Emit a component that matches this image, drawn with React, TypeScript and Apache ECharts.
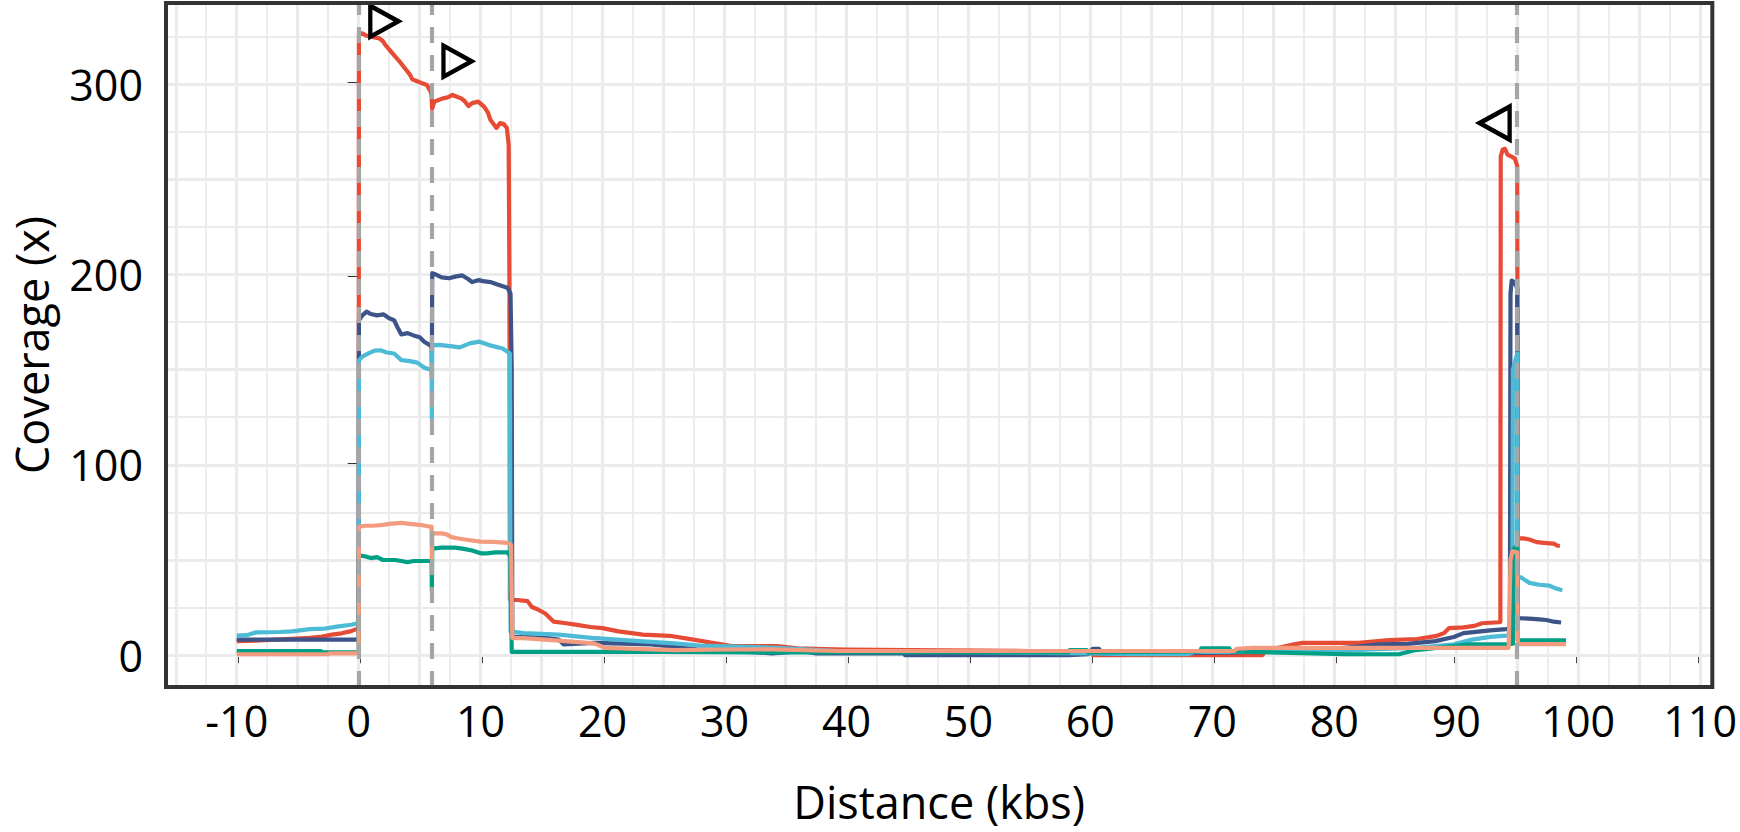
import React, { useEffect, useRef } from 'react'
import * as echarts from 'echarts'

const FONT = "'Open Sans', 'Noto Sans', sans-serif"

const SERIES_COLORS = {
  red: '#E64B35',
  navy: '#3C5488',
  sky: '#4DBBD5',
  green: '#00A087',
  salmon: '#F39B7F'
}

// axis ticks and grid positions
const distanceTicks = [-10, 0, 10, 20, 30, 40, 50, 60, 70, 80, 90, 100, 110]
const coverageTicks = [0, 100, 200, 300]
const xMajorGrid = [-15, -10, -5, 0, 5, 10, 15, 20, 25, 30, 35, 40, 45, 50, 55, 60, 65, 70, 75, 80, 85, 90, 95, 100, 105, 110]
const xMinorGrid = [-12.5, -7.5, -2.5, 2.5, 7.5, 12.5, 17.5, 22.5, 27.5, 32.5, 37.5, 42.5, 47.5, 52.5, 57.5, 62.5, 67.5, 72.5, 77.5, 82.5, 87.5, 92.5, 97.5, 102.5, 107.5]
const yMajorGrid = [0, 50, 100, 150, 200, 250, 300]
const yMinorGrid = [25, 75, 125, 175, 225, 275, 325]

// insertion boundaries (kbs)
const boundaries = [0, 6, 95]
const arrowsRight: [number, number][] = [[2.1, 333], [8.1, 312]]
const arrowsLeft: [number, number][] = [[93.15, 279.5]]

// coverage traces: [distance kbs, coverage x]
const redCoverage: [number, number][] = [
  [-10, 7.4], [-8.5, 7.6], [-6.9, 8.2], [-5.5, 8.6], [-4, 9.1], [-3, 9.8], [-2.2, 10.8], [-1.4, 11.5], [-0.7, 12.5], [-0.2, 13.7], [0, 13.7],
  [0.02, 326], [0.3, 326.7], [0.6, 325.5], [0.9, 325], [1.3, 324.5], [1.7, 324], [2.0, 322.5], [2.2, 320.5], [2.6, 317.5], [3.0, 314.4],
  [3.4, 311.5], [3.9, 307.4], [4.2, 305], [4.4, 302.5], [4.8, 301.5], [5.2, 300.4], [5.6, 299.5], [5.9, 296], [5.98, 294], [6.02, 287],
  [6.2, 290.8], [6.5, 291.5], [6.9, 292.5], [7.3, 293], [7.7, 294.3], [8.0, 293.5], [8.4, 292.5], [8.7, 291], [9.0, 288.5], [9.3, 290],
  [9.8, 290.8], [10.3, 288], [10.6, 285], [10.8, 281.3], [11.3, 277], [11.6, 279.5], [11.9, 279], [12.15, 277], [12.3, 268], [12.36, 200],
  [12.4, 29], [13.0, 29], [13.85, 28.4], [14.2, 25.3], [14.7, 24], [15.3, 21.9], [16.0, 17.6], [17.0, 16.8], [17.9, 15.9], [19, 14.8],
  [20, 14.2], [21.3, 12.5], [23.3, 10.8], [25.5, 10.2], [27.7, 7.9], [29, 6.5], [30.6, 4.8], [34.3, 4.8], [36, 3.6], [39, 3.1], [40, 3],
  [48, 2.5], [55, 2.2], [60.1, 2], [60.2, 0], [74.1, 0], [74.4, 2.5], [75.5, 4], [76.7, 5.7], [77.4, 6.5], [82, 6.5], [84.5, 7.9],
  [86.8, 8.5], [88.3, 10], [89, 11.6], [89.4, 14.2], [90.6, 14.6], [91.5, 15.4], [92.1, 16.8], [93.5, 17.3], [93.62, 17.5], [93.65, 262],
  [93.8, 265.5], [94.0, 266], [94.2, 263], [94.5, 262], [94.8, 261], [95.0, 257], [95.05, 61.4], [95.5, 61.4], [96.0, 60.8], [96.6, 59.4],
  [97.4, 58.9], [98.0, 58.6], [98.3, 57.5], [98.5, 57.5]
]

const navyCoverage: [number, number][] = [
  [-10, 8.2], [0, 8.2], [0.02, 176], [0.3, 178.5], [0.65, 180.5], [1.0, 179.2], [1.5, 178.5], [2.05, 179], [2.5, 177], [2.9, 176],
  [3.2, 172], [3.5, 168.5], [4.0, 169.2], [4.5, 168], [5.0, 167], [5.4, 164.5], [5.8, 163], [5.98, 162], [6.0, 146], [6.03, 200.7],
  [6.3, 200], [6.8, 198.5], [7.4, 198], [8.0, 199], [8.5, 199.5], [9.0, 197.5], [9.3, 196], [9.8, 197], [10.2, 196.5], [10.8, 196],
  [11.5, 194.5], [12.2, 193], [12.45, 190], [12.55, 150], [12.6, 9.5], [13.5, 9.6], [15.5, 9], [16.4, 8.2], [16.8, 5.7], [19.3, 6.5],
  [24, 5.7], [27.7, 3.1], [30, 2.5], [33.9, 1], [35.5, 1.7], [36.8, 1.7], [37.5, 1], [44.7, 1], [44.8, 0], [58.2, 0], [59.8, 0.5],
  [60.2, 3.4], [60.7, 3.4], [61, 0.5], [66, 1], [72, 1.5], [76, 2], [78.2, 2.6], [80.8, 3.9], [83.8, 5.7], [86, 6], [88.3, 7.4],
  [89.8, 9.6], [90.6, 11.6], [92.8, 13], [94.1, 13.7], [94.4, 14.6], [94.45, 190], [94.55, 196.8], [94.75, 196], [95.0, 193],
  [95.05, 19.5], [96.3, 19.1], [96.8, 18.8], [97.4, 18.5], [98.0, 17.6], [98.6, 17.2]
]

const skyCoverage: [number, number][] = [
  [-10, 10.3], [-9.2, 10.5], [-8.4, 12], [-6.5, 12.2], [-5.5, 12.5], [-4, 13.7], [-2.8, 14], [-1.8, 15], [-0.6, 16], [-0.1, 16.8], [0, 16.8],
  [0.02, 155], [0.3, 156.8], [0.8, 158.5], [1.3, 160], [1.8, 160.2], [2.3, 159], [2.9, 158.5], [3.5, 155], [4.2, 154.5], [4.8, 153.7],
  [5.4, 151], [5.9, 150], [5.98, 149], [6.0, 124.5], [6.03, 162.9], [6.6, 163], [7.5, 162.4], [8.3, 161.7], [9.1, 163.8], [9.9, 164.7],
  [10.7, 162.9], [11.8, 161.1], [12.2, 159.4], [12.4, 158.5], [12.45, 12.5], [13.5, 11.6], [16.4, 10.8], [19.1, 9.1], [23, 7.4],
  [25.9, 6.2], [28, 5.1], [31, 4.5], [34.3, 3.9], [39.3, 2.2], [45, 2], [52, 1.5], [60, 1], [63.5, 0.5], [68, 0.5], [68.5, 1.7],
  [78.9, 1.7], [83, 3], [87, 4], [89.8, 5.7], [91.3, 8.2], [92.8, 9.6], [94.1, 10.3], [94.6, 10.7], [94.65, 150], [94.85, 155],
  [95.0, 158.5], [95.05, 40.9], [95.3, 40.9], [96.0, 38], [96.8, 37], [97.6, 36.6], [98.2, 35], [98.7, 34.1]
]

const greenCoverage: [number, number][] = [
  [-10, 2.2], [-3.1, 2.2], [-3.0, 1.5], [0, 1.5], [0.02, 52.5], [0.5, 52], [1.0, 51], [1.5, 51.5], [2.0, 50], [3.0, 50], [3.5, 49.5],
  [4.0, 48.8], [4.5, 49.5], [5.5, 49.5], [5.98, 49.5], [6.0, 34], [6.03, 56], [6.8, 56.5], [7.9, 56.5], [8.5, 56], [9.3, 55],
  [10.0, 53.5], [10.5, 53.5], [11.2, 54], [12.2, 54], [12.45, 52], [12.55, 1.7], [25, 1.7], [35, 1.5], [45, 1.5], [55, 1.5],
  [58.2, 1.5], [58.3, 2.7], [59.7, 2.7], [59.8, 1.5], [69, 2], [69.1, 3.6], [71.4, 3.6], [71.5, 2], [80.8, 0.5], [85.3, 0.5],
  [86.5, 2.5], [91, 5.7], [94.4, 5.8], [94.65, 6], [94.7, 56], [95.0, 57.5], [95.05, 7.8], [99, 7.8]
]

const salmonCoverage: [number, number][] = [
  [-10, 0.5], [-2.5, 0.5], [-2.4, 1], [0, 1], [0.02, 67.5], [0.5, 68], [1.2, 68], [2.0, 68.5], [2.5, 69], [3.5, 69.5], [4.2, 69],
  [5.0, 68.5], [5.9, 67.5], [5.98, 67.5], [6.0, 50], [6.03, 64], [6.8, 64], [7.2, 63.5], [7.6, 62], [8.2, 61.3], [9.0, 60.5],
  [10.0, 59.7], [11.0, 59.5], [12.2, 59], [12.5, 58], [12.6, 9], [13.5, 9], [16.4, 7.7], [19.3, 6.2], [20.2, 3.9], [25.9, 2.7],
  [30, 3], [33.9, 3.1], [39.3, 2.2], [50, 2.2], [60, 2.2], [71.8, 2.2], [72, 3.4], [73.3, 3.9], [94.3, 3.9], [94.45, 50],
  [94.6, 54.6], [95.0, 54], [95.05, 5.8], [99, 5.8]
]

const traces = [
  { name: 'red', data: redCoverage, color: SERIES_COLORS.red },
  { name: 'navy', data: navyCoverage, color: SERIES_COLORS.navy },
  { name: 'sky', data: skyCoverage, color: SERIES_COLORS.sky },
  { name: 'green', data: greenCoverage, color: SERIES_COLORS.green },
  { name: 'salmon', data: salmonCoverage, color: SERIES_COLORS.salmon }
]

function gridLines(name: string, xs: number[], ys: number[], width: number): any {
  return {
    name,
    type: 'line',
    data: [],
    silent: true,
    markLine: {
      silent: true,
      z: 1,
      symbol: ['none', 'none'],
      label: { show: false },
      emphasis: { disabled: true },
      lineStyle: { color: '#ebebeb', width, type: 'solid' },
      data: [...xs.map(v => ({ xAxis: v })), ...ys.map(v => ({ yAxis: v }))]
    }
  }
}

function CoverageChart() {
  const chartRef = useRef<HTMLDivElement>(null)

  useEffect(() => {
    if (!chartRef.current) return
    const chart = echarts.init(chartRef.current, null, { renderer: 'svg' })

    const option: any = {
      animation: false,
      backgroundColor: '#ffffff',
      textStyle: { fontFamily: FONT },
      grid: {
        left: 166,
        right: 27,
        top: 3,
        bottom: 145,
        show: true,
        z: 10,
        backgroundColor: 'transparent',
        borderColor: '#333333',
        borderWidth: 4
      },
      xAxis: {
        type: 'value',
        min: -15.8,
        max: 111,
        axisLine: { show: false },
        axisTick: { show: true, length: 8, customValues: distanceTicks, lineStyle: { color: '#333333', width: 4 } },
        axisLabel: { customValues: distanceTicks, fontSize: 43, color: '#000', fontFamily: FONT, margin: 12 },
        splitLine: { show: false },
        name: 'Distance (kbs)',
        nameLocation: 'middle',
        nameGap: 92,
        nameTextStyle: { fontSize: 45, color: '#000', fontFamily: FONT }
      },
      yAxis: {
        type: 'value',
        min: -16.7,
        max: 342.6,
        axisLine: { show: false },
        axisTick: { show: true, length: 11, customValues: coverageTicks, lineStyle: { color: '#333333', width: 4 } },
        axisLabel: { customValues: coverageTicks, fontSize: 43, color: '#000', fontFamily: FONT, margin: 23 },
        splitLine: { show: false },
        name: 'Coverage (x)',
        nameLocation: 'middle',
        nameGap: 112,
        nameTextStyle: { fontSize: 45, color: '#000', fontFamily: FONT }
      },
      series: [
        gridLines('major', xMajorGrid, yMajorGrid, 3.2),
        gridLines('minor', xMinorGrid, yMinorGrid, 1.8),
        ...traces.map(t => ({
          name: t.name,
          type: 'line',
          data: t.data,
          showSymbol: false,
          silent: true,
          z: 3,
          lineStyle: { color: t.color, width: 4.2, join: 'round' },
          itemStyle: { color: t.color }
        })),
        {
          name: 'boundaries',
          type: 'line',
          data: [],
          silent: true,
          markLine: {
            silent: true,
            z: 6,
            symbol: ['none', 'none'],
            label: { show: false },
            emphasis: { disabled: true },
            lineStyle: { color: '#a6a6a6', width: 4.2, type: [16, 12] },
            data: boundaries.map(v => ({ xAxis: v }))
          }
        },
        {
          name: 'arrow-right',
          type: 'scatter',
          data: arrowsRight,
          silent: true,
          z: 7,
          symbol: 'path://M0,0L26,15L0,30Z',
          symbolSize: [28, 31],
          itemStyle: { color: 'rgba(0,0,0,0)', borderColor: '#000', borderWidth: 4.5, opacity: 1 }
        },
        {
          name: 'arrow-left',
          type: 'scatter',
          data: arrowsLeft,
          silent: true,
          z: 7,
          symbol: 'path://M26,0L0,15L26,30Z',
          symbolSize: [30, 33],
          itemStyle: { color: 'rgba(0,0,0,0)', borderColor: '#000', borderWidth: 4.5, opacity: 1 }
        }
      ]
    }

    chart.setOption(option, true)
    return () => chart.dispose()
  }, [])

  return <div ref={chartRef} style={{ position: 'absolute', left: 0, top: 0, width: '1740px', height: '832px' }} />
}

export default function App() {
  return <CoverageChart />
}
